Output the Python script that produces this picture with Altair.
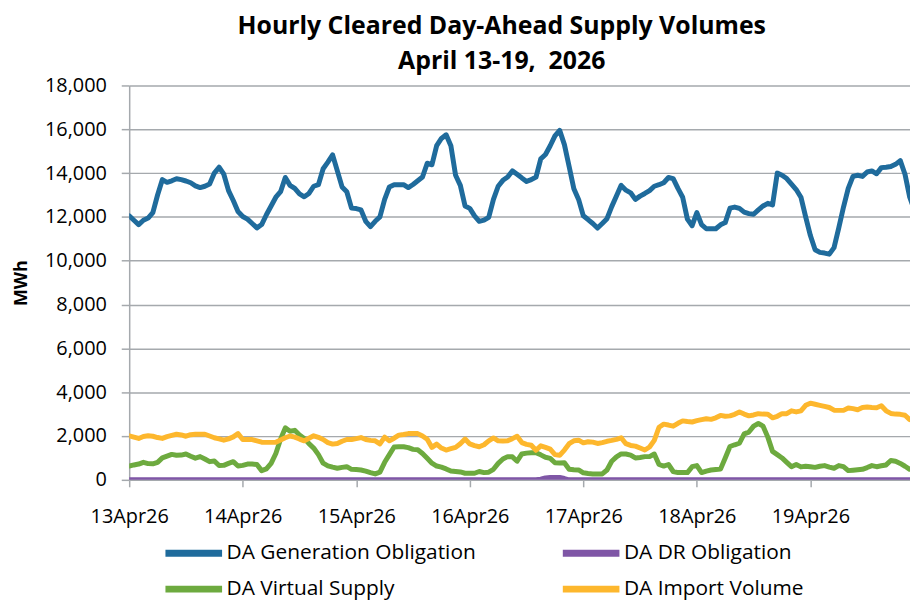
import altair as alt
import pandas as pd

SERIES = ["DA Generation Obligation", "DA DR Obligation", "DA Virtual Supply", "DA Import Volume"]
COLORS = ["#1F6B9C", "#7F56A6", "#6DAA3F", "#FDB72D"]
DAY_LABELS = ["13Apr26", "14Apr26", "15Apr26", "16Apr26", "17Apr26", "18Apr26", "19Apr26"]
Y_TICKS = [0, 2000, 4000, 6000, 8000, 10000, 12000, 14000, 16000, 18000]

GEN = [12050, 11850, 11650, 11850, 11950, 12200, 13000, 13700, 13580, 13650, 13740, 13700,
       13640, 13560, 13420, 13340, 13400, 13500, 14000, 14270, 13950, 13200, 12750, 12250,
       12020, 11900, 11700, 11500, 11650, 12100, 12500, 12900, 13150, 13800, 13440, 13300,
       13050, 12920, 13070, 13400, 13470, 14200, 14500, 14830, 14100, 13370, 13150, 12400,
       12380, 12320, 11800, 11560, 11800, 12000, 12800, 13370, 13470, 13470, 13470, 13340,
       13480, 13650, 13820, 14450, 14380, 15250, 15580, 15750, 15250, 13900, 13440, 12500,
       12390, 12050, 11800, 11850, 11980, 12800, 13400, 13670, 13820, 14100, 13950, 13780,
       13620, 13700, 13820, 14650, 14850, 15250, 15700, 15950, 15300, 14300, 13290, 12800,
       12050, 11880, 11700, 11490, 11700, 11920, 12470, 12950, 13440, 13220, 13100, 12800,
       12950, 13070, 13200, 13400, 13470, 13560, 13800, 13750, 13300, 12900, 11900, 11600,
       12200, 11650, 11460, 11460, 11460, 11640, 11740, 12400, 12450, 12390, 12220, 12150,
       12120, 12320, 12500, 12620, 12550, 14000, 13900, 13750, 13500, 13250, 12900, 12000,
       11150, 10500, 10380, 10350, 10300, 10600, 11500, 12450, 13300, 13850, 13900, 13850,
       14050, 14100, 13970, 14250, 14270, 14300, 14400, 14570, 13950, 12900, 12300, 12100]

DR = [0] * 87 + [30, 90, 110, 110, 110, 60] + [0] * 75

VIRTUAL = [630, 680, 720, 800, 740, 730, 800, 1000, 1080, 1160, 1120, 1130,
           1180, 1080, 990, 1060, 950, 830, 860, 650, 660, 750, 830, 630,
           660, 720, 720, 700, 420, 500, 750, 1200, 1850, 2370, 2220, 2260,
           2050, 1890, 1650, 1450, 1150, 760, 640, 580, 530, 570, 600, 480,
           470, 450, 400, 330, 270, 350, 800, 1150, 1500, 1510, 1510, 1470,
           1390, 1370, 1200, 980, 760, 630, 580, 500, 400, 380, 360, 300,
           300, 300, 380, 330, 350, 480, 750, 950, 1060, 1050, 850, 1180,
           1220, 1240, 1240, 1140, 1030, 980, 780, 770, 780, 480, 460, 450,
           320, 290, 270, 270, 270, 450, 850, 1050, 1180, 1180, 1130, 1000,
           1020, 1060, 1060, 1180, 700, 630, 700, 380, 330, 330, 330, 600,
           650, 330, 400, 450, 470, 490, 1000, 1520, 1600, 1670, 2100, 2180,
           2450, 2570, 2450, 1950, 1300, 1150, 1000, 800, 600, 700, 590, 620,
           600, 570, 620, 650, 580, 530, 650, 600, 420, 440, 460, 480,
           560, 650, 600, 640, 680, 880, 850, 750, 620, 480, 450, 450]

IMPORT = [2010, 1950, 1890, 1980, 2010, 1990, 1930, 1890, 1970, 2030, 2080, 2050,
          1990, 2060, 2080, 2080, 2080, 2000, 1920, 1870, 1810, 1870, 1960, 2110,
          1840, 1840, 1840, 1780, 1720, 1710, 1710, 1720, 1820, 1920, 2000, 1950,
          1860, 1780, 1900, 2010, 1940, 1840, 1700, 1630, 1660, 1760, 1840, 1840,
          1880, 1930, 1840, 1800, 1780, 1640, 1950, 1780, 1900, 2040, 2070, 2110,
          2110, 2110, 2000, 1850, 1480, 1630, 1450, 1360, 1420, 1480, 1650, 1860,
          1640, 1560, 1510, 1600, 1780, 1910, 1780, 1770, 1780, 1880, 1990, 1700,
          1620, 1580, 1350, 1550, 1480, 1400, 1150, 1120, 1360, 1650, 1780, 1810,
          1690, 1740, 1720, 1660, 1700, 1760, 1800, 1850, 1920, 1650, 1570, 1540,
          1450, 1360, 1500, 1800, 2400, 2540, 2500, 2450, 2580, 2690, 2660, 2640,
          2700, 2750, 2790, 2760, 2830, 2940, 2900, 2920, 2990, 3100, 3000, 2920,
          2960, 3020, 3000, 2990, 2830, 2900, 3020, 3020, 3150, 3100, 3150, 3400,
          3500, 3450, 3400, 3350, 3300, 3180, 3170, 3170, 3280, 3250, 3200, 3300,
          3320, 3300, 3290, 3380, 3150, 3030, 3000, 2990, 2950, 2750, 2700, 2700]

HOURS = list(range(len(GEN)))

rows = []
for name, vals in zip(SERIES, [GEN, DR, VIRTUAL, IMPORT]):
    for h, v in zip(HOURS, vals):
        rows.append({"hour": h, "value": v, "series": name, "order": SERIES.index(name)})
df = pd.DataFrame(rows)

FONT = "Open Sans"
GREY = "#A5A9AD"
PLOT_W = 786
HOUR_PX = 4.762
label_arr = "[" + ",".join("'%s'" % s for s in DAY_LABELS) + "]"

chart = alt.Chart(df).mark_line(strokeWidth=5, clip=True, strokeJoin="round", strokeCap="round").encode(
    x=alt.X("hour:Q",
            scale=alt.Scale(domain=[0, PLOT_W / HOUR_PX], nice=False, zero=False),
            axis=alt.Axis(values=[i * 24 for i in range(len(DAY_LABELS))],
                          labelExpr=label_arr + "[round(datum.value/24)]",
                          title=None, grid=False, tickSize=7, tickColor=GREY,
                          domainColor=GREY, domainWidth=1.5, tickWidth=1.5,
                          labelFontSize=20, labelFont=FONT, labelColor="black",
                          labelPadding=20, labelFlush=False)),
    y=alt.Y("value:Q",
            scale=alt.Scale(domain=[0, 18000], nice=False),
            axis=alt.Axis(values=Y_TICKS, format=",.0f", title="MWh",
                          titleFont=FONT, titleFontSize=18, titleFontWeight="bold",
                          titleColor="black", titlePadding=14,
                          tickSize=8, tickColor=GREY, tickWidth=1.5,
                          domainColor=GREY, domainWidth=1.5,
                          gridColor=GREY, gridWidth=1.5,
                          labelFontSize=20, labelFont=FONT, labelColor="black",
                          labelPadding=15)),
    color=alt.Color("series:N",
                    scale=alt.Scale(domain=SERIES, range=COLORS),
                    legend=alt.Legend(orient="none", legendX=33, legendY=461, columns=2,
                                      direction="horizontal", clipHeight=20,
                                      columnPadding=84, rowPadding=15, title=None,
                                      symbolType="stroke", symbolSize=3249, symbolStrokeWidth=7,
                                      labelFontSize=21, labelFont=FONT, labelColor="black",
                                      labelOffset=1, labelLimit=0)),
    order=alt.Order("order:Q"),
    detail="series:N",
).properties(
    width=PLOT_W,
    height=397,
    padding={"left": 4, "top": 4, "right": 0, "bottom": 0},
    title=alt.TitleParams(text=["Hourly Cleared Day-Ahead Supply Volumes", "April 13-19,\u00a0 2026"],
                          fontSize=25, font=FONT, fontWeight="bold", lineHeight=35,
                          offset=2, dx=-18, anchor="middle", color="black"),
).configure_view(stroke=None)

chart.save("out.html", embed_options={"renderer": "svg", "actions": False})
